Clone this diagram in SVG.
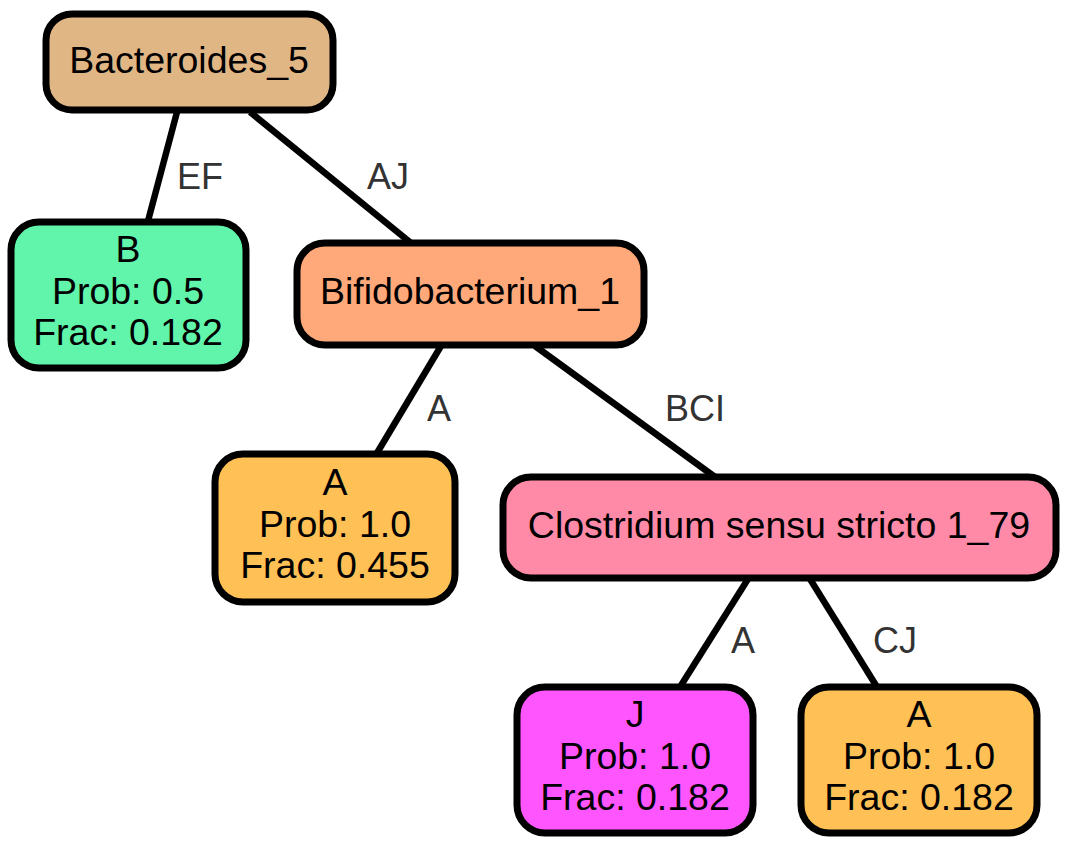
<svg xmlns="http://www.w3.org/2000/svg" width="1065" height="846" viewBox="0 0 1065 846">
<style>
.n{stroke:#000;stroke-width:7}
.t{font-family:"Liberation Sans",Arial,sans-serif;font-size:37.5px;fill:#000;text-anchor:middle}
.e{stroke:#000;stroke-width:6.5;fill:none}
.l{font-family:"Liberation Sans",Arial,sans-serif;font-size:36px;fill:#333;text-anchor:start}
</style>
<rect width="1065" height="846" fill="#fff"/>
<g id="edges">
<line class="e" x1="177" y1="112" x2="148" y2="221"/>
<line class="e" x1="250" y1="112" x2="411" y2="243"/>
<line class="e" x1="441" y1="346" x2="377" y2="453"/>
<line class="e" x1="535" y1="346" x2="715" y2="477"/>
<line class="e" x1="748" y1="579" x2="680" y2="687"/>
<line class="e" x1="810" y1="579" x2="877" y2="687"/>
<text class="l" x="177" y="189">EF</text>
<text class="l" x="367" y="189">AJ</text>
<text class="l" x="427" y="421">A</text>
<text class="l" x="665" y="421">BCI</text>
<text class="l" x="731" y="653">A</text>
<text class="l" x="873" y="653">CJ</text>
</g>
<g id="n_bacteroides">
<rect class="n" x="46" y="14" width="287" height="96" rx="26" fill="#E1B685"/>
<text class="t" x="189" y="73">Bacteroides_5</text>
</g>
<g id="n_b">
<rect class="n" x="11" y="222" width="235" height="146" rx="28" fill="#60F5AA"/>
<text class="t" x="128" y="262">B</text>
<text class="t" x="128" y="304">Prob: 0.5</text>
<text class="t" x="128" y="345">Frac: 0.182</text>
</g>
<g id="n_bifido">
<rect class="n" x="297" y="243" width="347" height="102" rx="28" fill="#FFA97A"/>
<text class="t" x="470" y="304">Bifidobacterium_1</text>
</g>
<g id="n_a1">
<rect class="n" x="215" y="454" width="240" height="148" rx="28" fill="#FFC055"/>
<text class="t" x="335" y="495">A</text>
<text class="t" x="335" y="537">Prob: 1.0</text>
<text class="t" x="335" y="578">Frac: 0.455</text>
</g>
<g id="n_clostridium">
<rect class="n" x="503" y="477" width="553" height="101" rx="28" fill="#FF8AA8"/>
<text class="t" x="779" y="538">Clostridium sensu stricto 1_79</text>
</g>
<g id="n_j">
<rect class="n" x="517" y="687" width="236" height="146" rx="28" fill="#FF55FF"/>
<text class="t" x="635" y="727">J</text>
<text class="t" x="635" y="769">Prob: 1.0</text>
<text class="t" x="635" y="810">Frac: 0.182</text>
</g>
<g id="n_a2">
<rect class="n" x="801" y="687" width="236" height="146" rx="28" fill="#FFC055"/>
<text class="t" x="919" y="727">A</text>
<text class="t" x="919" y="769">Prob: 1.0</text>
<text class="t" x="919" y="810">Frac: 0.182</text>
</g>
</svg>
